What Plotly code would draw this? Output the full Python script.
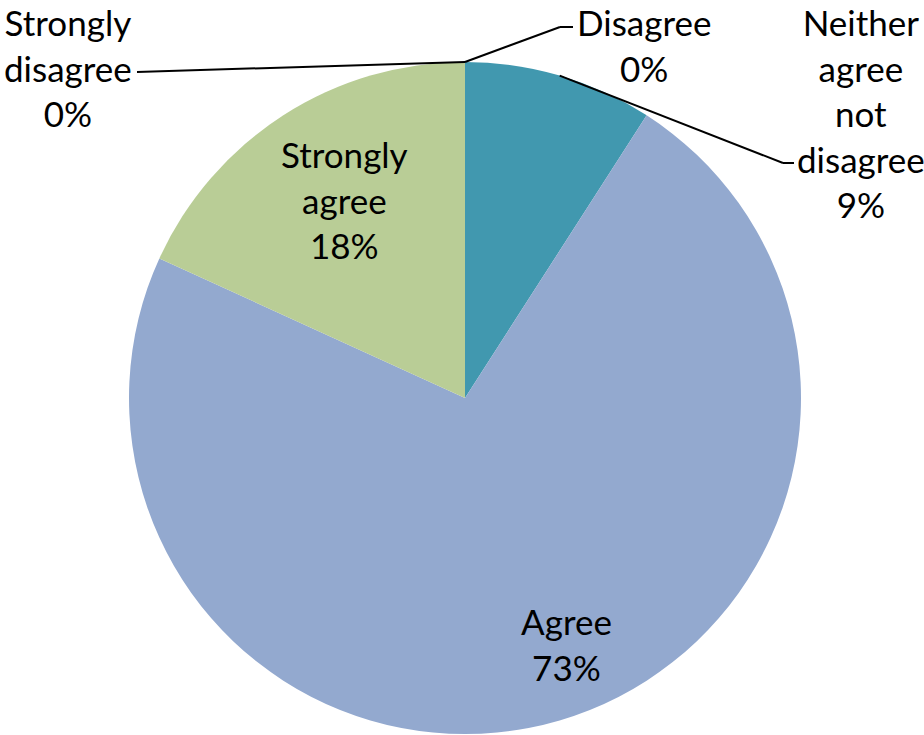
import math
import plotly.graph_objects as go

categories = ["Strongly disagree", "Disagree", "Neither agree not disagree", "Agree", "Strongly agree"]
counts = [0, 0, 1, 8, 2]
label_text = ["Strongly<br>disagree", "Disagree", "Neither<br>agree<br>not<br>disagree", "Agree", "Strongly<br>agree"]
colors = ["#4F81BD", "#C0504D", "#4198AF", "#93A9CF", "#B9CD96"]

W, H = 924, 735
CX, CY, R = 465, 398, 336
FONT = dict(family="Lato, Calibri, Carlito, sans-serif", size=35, color="black")

def px(x):
    return x / W

def py(y):
    return 1 - y / H

total = sum(counts)
pct = [round(100 * c / total) for c in counts]

fig = go.Figure(go.Pie(
    labels=categories,
    values=counts,
    sort=False,
    direction="clockwise",
    rotation=0,
    textinfo="none",
    hoverinfo="label+percent",
    marker=dict(colors=colors, line=dict(color="white", width=0)),
    domain=dict(x=[px(CX - R), px(CX + R)], y=[py(CY + R), py(CY - R)]),
    showlegend=False,
))

# mid-angle point on the rim for each slice (clockwise from 12 o'clock)
cum = 0
rim = []
for c in counts:
    mid = (cum + c / 2) / total * 2 * math.pi
    rim.append((CX + R * math.sin(mid), CY - R * math.cos(mid)))
    cum += c

# label anchors: (x centre, y, vertical anchor)
label_pos = [(68, 0, "top"), (644, 0, "top"), (861, 0, "top"), (566, 644, "middle"), (344, 199, "middle")]
leaders = {
    0: [(137, 72)],
    1: [(560, 27), (573, 27)],
    2: [(783, 163), (794, 163)],
}

annotations = []
for i, (lx, ly, va) in enumerate(label_pos):
    annotations.append(dict(
        x=px(lx), y=py(ly), xref="paper", yref="paper",
        text=f"{label_text[i]}<br>{pct[i]}%",
        showarrow=False, xanchor="center", yanchor=va,
        font=FONT, align="center", borderpad=0,
    ))

shapes = []
for i, pts in leaders.items():
    seq = [rim[i]] + pts
    for (x0, y0), (x1, y1) in zip(seq[:-1], seq[1:]):
        shapes.append(dict(type="line", xref="paper", yref="paper",
                           x0=px(x0), y0=py(y0), x1=px(x1), y1=py(y1),
                           line=dict(color="black", width=2)))

fig.update_layout(
    width=W, height=H,
    margin=dict(l=0, r=0, t=0, b=0),
    paper_bgcolor="white",
    plot_bgcolor="white",
    annotations=annotations,
    shapes=shapes,
)

fig.write_html("out.html", config={"displayModeBar": False},
               post_script="document.body.style.margin='0';")
